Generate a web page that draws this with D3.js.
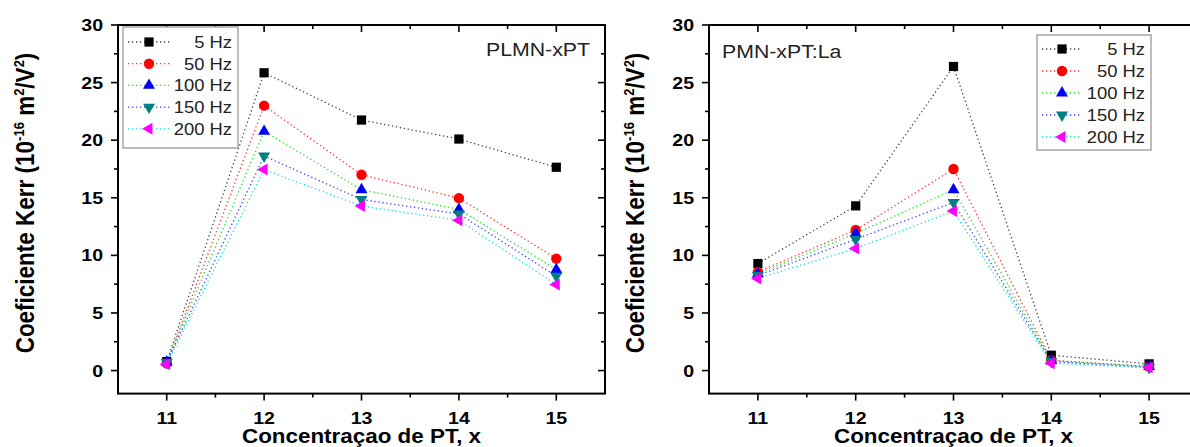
<!DOCTYPE html>
<html>
<head>
<meta charset="utf-8">
<script src="https://cdn.jsdelivr.net/npm/d3@7"></script>
<style>
  html, body { margin: 0; padding: 0; background: #fff; }
  svg { display: block; font-family: "Liberation Sans", Arial, sans-serif; }
</style>
</head>
<body>
<svg id="chart" width="1190" height="447"></svg>
<script>
// PT concentration (x axis)
const concentrations = [11, 12, 13, 14, 15];
const frequencyLabels = ["5 Hz", "50 Hz", "100 Hz", "150 Hz", "200 Hz"];
const xTicks = [11, 12, 13, 14, 15];
const yTicks = [0, 5, 10, 15, 20, 25, 30];

// Kerr coefficient (10^-16 m^2/V^2), PLMN-xPT
const plmn5Hz   = [0.78, 25.85, 21.75, 20.1, 17.65];
const plmn50Hz  = [0.63, 23.0, 17.0, 14.97, 9.72];
const plmn100Hz = [0.75, 20.77, 15.7, 14.0, 8.77];
const plmn150Hz = [0.7, 18.63, 14.85, 13.6, 8.2];
const plmn200Hz = [0.55, 17.45, 14.28, 13.04, 7.47];

// Kerr coefficient (10^-16 m^2/V^2), PMN-xPT:La
const pmnla5Hz   = [9.29, 14.3, 26.4, 1.33, 0.58];
const pmnla50Hz  = [8.57, 12.2, 17.5, 0.9, 0.35];
const pmnla100Hz = [8.4, 11.9, 15.7, 0.85, 0.35];
const pmnla150Hz = [8.25, 11.4, 14.6, 0.78, 0.26];
const pmnla200Hz = [8.0, 10.6, 13.85, 0.63, 0.26];

// Series styling: marker colour, dotted-line colour, marker shape
const markerColors = ["#000000", "#ff0000", "#0000ff", "#008080", "#ff00ff"];
const lineColors   = ["#444444", "#ff3030", "#20e020", "#4040ff", "#00e8e8"];
const shapes = ["square", "circle", "up", "down", "left"];

const SX = 1.15; // horizontal text stretch
const svg = d3.select("#chart");

function markerPath(shape) {
  if (shape === "square") return d3.symbol(d3.symbolSquare, 85)();
  if (shape === "circle") return d3.symbol(d3.symbolCircle, 85)();
  return d3.symbol(d3.symbolTriangle, 62)();
}
function markerRotation(shape) {
  if (shape === "down") return 180;
  if (shape === "left") return -90;
  return 0;
}

function stretchedText(g, x, y, str, opts) {
  const t = g.append("text")
    .attr("transform", `translate(${x},${y}) scale(${SX},1)`)
    .attr("text-anchor", opts.anchor || "start")
    .attr("font-size", opts.size)
    .attr("font-weight", opts.weight || "normal")
    .attr("fill", opts.fill || "#000")
    .text(str);
  return t;
}

function drawPanel(cfg) {
  const g = svg.append("g");
  const x = d3.scaleLinear().domain([10.5, 15.5]).range(cfg.xRange);
  const y = d3.scaleLinear().domain([-2, 30]).range([393.6, 25]);
  const [x0, x1] = cfg.xRange;
  const y0 = y(-2), y1 = y(30);

  // Tick marks: bottom/left outward, top/right inward
  const majorX = xTicks, minorX = [11.5, 12.5, 13.5, 14.5];
  const majorY = yTicks, minorY = [-2.5, 2.5, 7.5, 12.5, 17.5, 22.5, 27.5].filter(v => v >= -2);
  const tk = g.append("g").attr("stroke", "#000").attr("stroke-width", 1.6);
  majorX.forEach(v => {
    tk.append("line").attr("x1", x(v)).attr("x2", x(v)).attr("y1", y0).attr("y2", y0 + 7);
    tk.append("line").attr("x1", x(v)).attr("x2", x(v)).attr("y1", y1).attr("y2", y1 + 7);
  });
  minorX.forEach(v => {
    tk.append("line").attr("x1", x(v)).attr("x2", x(v)).attr("y1", y0).attr("y2", y0 + 4);
    tk.append("line").attr("x1", x(v)).attr("x2", x(v)).attr("y1", y1).attr("y2", y1 + 4);
  });
  majorY.forEach(v => {
    tk.append("line").attr("x1", x0 - 7).attr("x2", x0).attr("y1", y(v)).attr("y2", y(v));
    tk.append("line").attr("x1", x1 - 7).attr("x2", x1).attr("y1", y(v)).attr("y2", y(v));
  });
  minorY.forEach(v => {
    tk.append("line").attr("x1", x0 - 4).attr("x2", x0).attr("y1", y(v)).attr("y2", y(v));
    tk.append("line").attr("x1", x1 - 4).attr("x2", x1).attr("y1", y(v)).attr("y2", y(v));
  });

  // Frame
  g.append("rect").attr("x", x0).attr("y", y1).attr("width", x1 - x0).attr("height", y0 - y1)
    .attr("fill", "none").attr("stroke", "#000").attr("stroke-width", 2);

  // Tick labels
  xTicks.forEach(v => stretchedText(g, x(v), 424, String(v), { anchor: "middle", size: 17, weight: "bold" }));
  yTicks.forEach(v => stretchedText(g, x0 - 15, y(v) + 6, String(v), { anchor: "end", size: 17, weight: "bold" }));

  // Axis titles
  stretchedText(g, (x0 + Math.min(x1, 1190 + (x1 - 1190))) / 2, 443, "Concentraçao de PT, x",
    { anchor: "middle", size: 19.5, weight: "bold" });

  const yt = g.append("text")
    .attr("transform", `translate(${cfg.yTitleX},203) scale(${SX},1) rotate(-90)`)
    .attr("text-anchor", "middle")
    .attr("font-size", 22.5)
    .attr("font-weight", "bold");
  yt.append("tspan").text("Coeficiente Kerr (10");
  yt.append("tspan").attr("font-size", 13).attr("dy", -9).text("-16");
  yt.append("tspan").attr("dy", 9).text(" m");
  yt.append("tspan").attr("font-size", 13).attr("dy", -9).text("2");
  yt.append("tspan").attr("dy", 9).text("/V");
  yt.append("tspan").attr("font-size", 13).attr("dy", -9).text("2");
  yt.append("tspan").attr("dy", 9).text(")");

  // Series
  const line = d3.line().x((d, i) => x(concentrations[i])).y(d => y(d));
  cfg.series.forEach((vals, s) => {
    g.append("path").datum(vals).attr("d", line)
      .attr("fill", "none").attr("stroke", lineColors[s])
      .attr("stroke-width", 1.3).attr("stroke-dasharray", "1.3,2.7");
  });
  cfg.series.forEach((vals, s) => {
    g.append("g").selectAll("path").data(vals).join("path")
      .attr("d", markerPath(shapes[s]))
      .attr("transform", (d, i) => `translate(${x(concentrations[i])},${y(d)}) rotate(${markerRotation(shapes[s])})`)
      .attr("fill", markerColors[s]);
  });

  // Annotation
  stretchedText(g, cfg.label.x, cfg.label.y, cfg.label.text,
    { anchor: cfg.label.anchor, size: 18.5, fill: "#222" });

  // Legend
  const L = cfg.legend;
  g.append("rect").attr("x", L.x0).attr("y", L.y0).attr("width", L.x1 - L.x0).attr("height", L.y1 - L.y0)
    .attr("fill", "#fff").attr("stroke", "#999").attr("stroke-width", 1.3);
  frequencyLabels.forEach((lab, s) => {
    const cy = L.rowY + s * L.rowStep;
    g.append("line").attr("x1", L.lineX0).attr("x2", L.lineX1).attr("y1", cy).attr("y2", cy)
      .attr("stroke", lineColors[s]).attr("stroke-width", 1.3).attr("stroke-dasharray", "1.3,2.7");
    g.append("path").attr("d", markerPath(shapes[s]))
      .attr("transform", `translate(${L.markerX},${cy}) rotate(${markerRotation(shapes[s])})`)
      .attr("fill", markerColors[s]);
    stretchedText(g, L.textX, cy + 6, lab, { anchor: "end", size: 16, fill: "#222" });
  });
}

drawPanel({
  xRange: [118, 605],
  yTitleX: 34,
  series: [plmn5Hz, plmn50Hz, plmn100Hz, plmn150Hz, plmn200Hz],
  label: { text: "PLMN-xPT", x: 590, y: 56, anchor: "end" },
  legend: { x0: 123, x1: 238, y0: 27, y1: 148, rowY: 42, rowStep: 21.7,
            lineX0: 128, lineX1: 170, markerX: 149, textX: 232 }
});

drawPanel({
  xRange: [709, 1198],
  yTitleX: 644,
  series: [pmnla5Hz, pmnla50Hz, pmnla100Hz, pmnla150Hz, pmnla200Hz],
  label: { text: "PMN-xPT:La", x: 722, y: 58, anchor: "start" },
  legend: { x0: 1037, x1: 1151, y0: 35, y1: 150, rowY: 49, rowStep: 22,
            lineX0: 1042, lineX1: 1082, markerX: 1062, textX: 1145 }
});
</script>
</body>
</html>
